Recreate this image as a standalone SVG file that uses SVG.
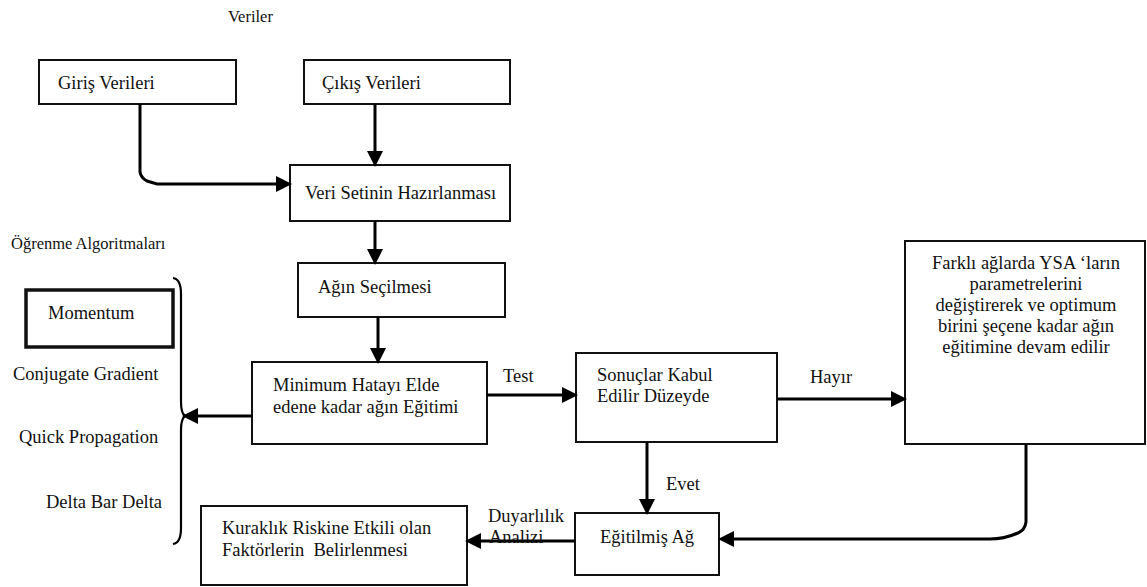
<svg xmlns="http://www.w3.org/2000/svg" width="1147" height="587" viewBox="0 0 1147 587">
<style>
text{font-family:"Liberation Serif",Tinos,"Times New Roman",Times,"DejaVu Serif",serif;font-size:18.5px;fill:#111}
.sm{font-size:16.5px}
.box{fill:#fff;stroke:#111;stroke-width:2}
.thick{stroke-width:3.5}
.c{fill:none;stroke:#000;stroke-width:3}
.br{fill:none;stroke:#000;stroke-width:2.2}
</style>
<defs>
<marker id="ah" markerUnits="userSpaceOnUse" markerWidth="16" markerHeight="16" viewBox="0 0 14 14" refX="0" refY="7" orient="auto">
<path d="M0,0 L14,7 L0,14 Z" fill="#000"/>
</marker>
</defs>
<rect width="1147" height="587" fill="#fff"/>
<text class="sm" x="228" y="22" font-family="Liberation Serif, serif">Veriler</text>
<text class="sm" x="11" y="249" font-family="Liberation Serif, serif">Öğrenme Algoritmaları</text>
<g id="giris"><rect class="box" x="39" y="60" width="197" height="44"/><text x="58" y="89" font-family="Liberation Serif, serif">Giriş Verileri</text></g>
<g id="cikis"><rect class="box" x="304" y="60" width="206" height="44"/><text x="322" y="89" font-family="Liberation Serif, serif">Çıkış Verileri</text></g>
<g id="veriseti"><rect class="box" x="290" y="165" width="220" height="56"/><text x="305" y="199" font-family="Liberation Serif, serif">Veri Setinin Hazırlanması</text></g>
<g id="agin"><rect class="box" x="298" y="263" width="207" height="54"/><text x="318" y="293" font-family="Liberation Serif, serif">Ağın Seçilmesi</text></g>
<g id="minimum" font-family="Liberation Serif, serif"><rect class="box" x="252" y="362" width="235" height="82"/><text x="273" y="391">Minimum Hatayı Elde</text><text x="273" y="413">edene kadar ağın Eğitimi</text></g>
<g id="sonuclar" font-family="Liberation Serif, serif"><rect class="box" x="576" y="353" width="201" height="89"/><text x="597" y="381">Sonuçlar Kabul</text><text x="597" y="402">Edilir Düzeyde</text></g>
<g id="farkli" font-family="Liberation Serif, serif"><rect class="box" x="905" y="241" width="240" height="203"/>
<g text-anchor="middle"><text x="1026" y="269">Farklı ağlarda YSA ‘ların</text><text x="1026" y="290">parametrelerini</text><text x="1026" y="311">değiştirerek ve optimum</text><text x="1026" y="332">birini şeçene kadar ağın</text><text x="1026" y="353">eğitimine devam edilir</text></g></g>
<g id="egitilmis" font-family="Liberation Serif, serif"><rect class="box" x="575" y="513" width="144" height="62"/><text x="600" y="543">Eğitilmiş Ağ</text></g>
<g id="kuraklik" font-family="Liberation Serif, serif"><rect class="box" x="201" y="506" width="266" height="79"/><text x="222" y="534">Kuraklık Riskine Etkili olan</text><text x="222" y="556" xml:space="preserve">Faktörlerin  Belirlenmesi</text></g>
<g id="algoritmalar" font-family="Liberation Serif, serif">
<rect class="box thick" x="26" y="290" width="147" height="57"/><text x="48" y="319">Momentum</text>
<text x="13" y="380">Conjugate Gradient</text>
<text x="19" y="443">Quick Propagation</text>
<text x="46" y="508">Delta Bar Delta</text>
<path class="br" d="M173,278 Q181,279 181,294 L181,402 Q181,413 185,416 Q181,419 181,430 L181,528 Q181,543 173,544"/>
</g>
<g id="connectors">
<path class="c" d="M140,104 L140,172 Q141,178 147,181 L157,184 L276,184" marker-end="url(#ah)"/>
<path class="c" d="M375,104 L375,151" marker-end="url(#ah)"/>
<path class="c" d="M375,221 L375,249" marker-end="url(#ah)"/>
<path class="c" d="M378,317 L378,348" marker-end="url(#ah)"/>
<path class="c" d="M252,416 L198,416" marker-end="url(#ah)"/>
<path class="c" d="M487,395 L562,395" marker-end="url(#ah)"/>
<path class="c" d="M777,399 L891,399" marker-end="url(#ah)"/>
<path class="c" d="M647,442 L647,499" marker-end="url(#ah)"/>
<path class="c" d="M1026,444 L1026,522 Q1025,530 1018,533 Q1004,539 990,539 L734,539" marker-end="url(#ah)"/>
<path class="c" d="M575,541 L481,541" marker-end="url(#ah)"/>
</g>
<g font-family="Liberation Serif, serif">
<text x="503" y="382">Test</text>
<text x="810" y="383">Hayır</text>
<text x="666" y="490">Evet</text>
<text x="488" y="522">Duyarlılık</text>
<text x="489" y="543">Analizi</text>
</g>
</svg>
